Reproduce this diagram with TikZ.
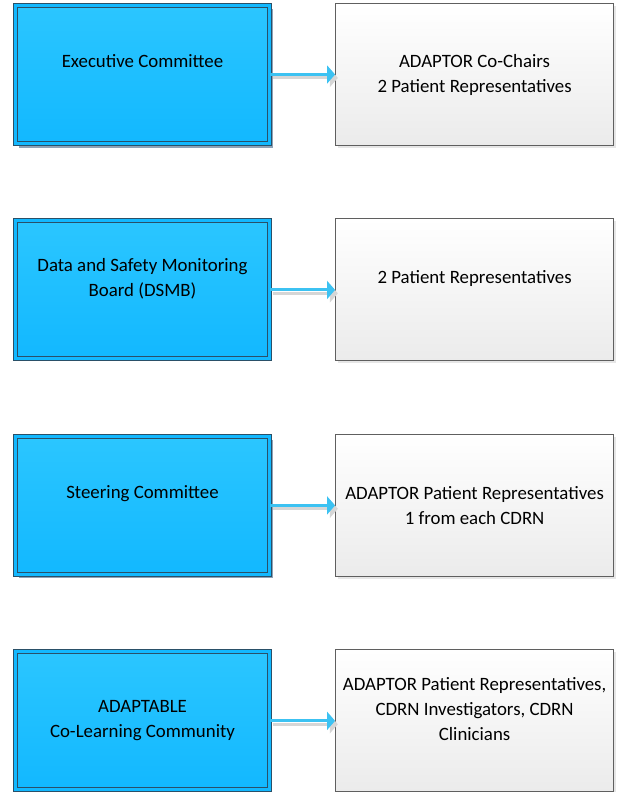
\documentclass[tikz,border=0pt]{standalone}
\usepackage{fontspec}
\setmainfont{Carlito}
\usepackage{xcolor}
\definecolor{adaptcolBlueTop}{HTML}{2BC6FF}
\definecolor{adaptcolBlueBottom}{HTML}{12B8FF}
\definecolor{adaptcolEdge}{HTML}{2A5068}
\definecolor{adaptcolShadow}{HTML}{8DA2B7}
\definecolor{adaptcolArrow}{HTML}{3CC2F2}
\definecolor{adaptcolGray}{HTML}{5F5F5F}
\definecolor{adaptcolLight}{HTML}{EBEBEB}
\definecolor{adaptcolFaint}{HTML}{D6D6D6}
\usetikzlibrary{arrows.meta,positioning,shadows}
\tikzset{
    board/.style={
        rectangle,
        draw=adaptcolEdge,
        line width=0.025cm,
        double=adaptcolBlueBottom,
        double distance=0.075cm,
        top color=adaptcolBlueTop,
        bottom color=adaptcolBlueBottom,
        minimum width=6.35cm,
        minimum height=3.45cm,
        align=center,
        font=\fontsize{13.4}{17.8}\selectfont
    },
    boardshadow/.style={
        drop shadow={shadow xshift=0.08cm, shadow yshift=-0.1cm,
            fill=adaptcolShadow, opacity=1}
    },
    members/.style={
        rectangle,
        draw=adaptcolGray,
        line width=0.025cm,
        top color=white,
        bottom color=adaptcolLight,
        minimum width=6.95cm,
        minimum height=3.55cm,
        align=center,
        drop shadow={shadow xshift=0.06cm, shadow yshift=-0.06cm,
            fill=adaptcolFaint, opacity=0.6},
        font=\fontsize{13.4}{17.8}\selectfont
    },
    arrow/.style={
        -{Triangle[length=0.2cm, width=0.45cm]},
        line width=0.075cm,
        color=adaptcolArrow
    },
    arrowshadow/.style={
        -{Triangle[length=0.2cm, width=0.45cm]},
        line width=0.075cm,
        color=adaptcolFaint,
        transform canvas={xshift=0.07cm, yshift=-0.085cm}
    }
}

\begin{document}
\begin{tikzpicture}[x=0.025cm, y=-0.025cm]
    \useasboundingbox (0,0) rectangle (621,792);

    \node[board, boardshadow, text depth=0.7cm] (exec) at (142.5,74.5) {Executive Committee};
    \node[members, right=1.625cm of exec] (execmem) {ADAPTOR Co-Chairs\\2 Patient Representatives};

    \node[board, text depth=0.62cm, below=1.91cm of exec] (dsmb) {Data and Safety Monitoring\\Board (DSMB)};
    \node[members, text depth=0.64cm, right=1.625cm of dsmb] (dsmbmem) {2 Patient Representatives};

    \node[board, boardshadow, text depth=0.66cm, below=1.91cm of dsmb] (steer) {Steering Committee};
    \node[members, right=1.625cm of steer] (steermem) {ADAPTOR Patient Representatives\\1 from each CDRN};

    \node[board, below=1.91cm of steer] (colearn) {ADAPTABLE\\Co-Learning Community};
    \node[members, text depth=0.58cm, right=1.625cm of colearn] (colearnmem)
        {ADAPTOR Patient Representatives,\\CDRN Investigators, CDRN\\Clinicians};

    \draw[arrowshadow] (exec) -- (execmem);
    \draw[arrow] (exec) -- (execmem);
    \draw[arrowshadow] (dsmb) -- (dsmbmem);
    \draw[arrow] (dsmb) -- (dsmbmem);
    \draw[arrowshadow] (steer) -- (steermem);
    \draw[arrow] (steer) -- (steermem);
    \draw[arrowshadow] (colearn) -- (colearnmem);
    \draw[arrow] (colearn) -- (colearnmem);
\end{tikzpicture}
\end{document}
